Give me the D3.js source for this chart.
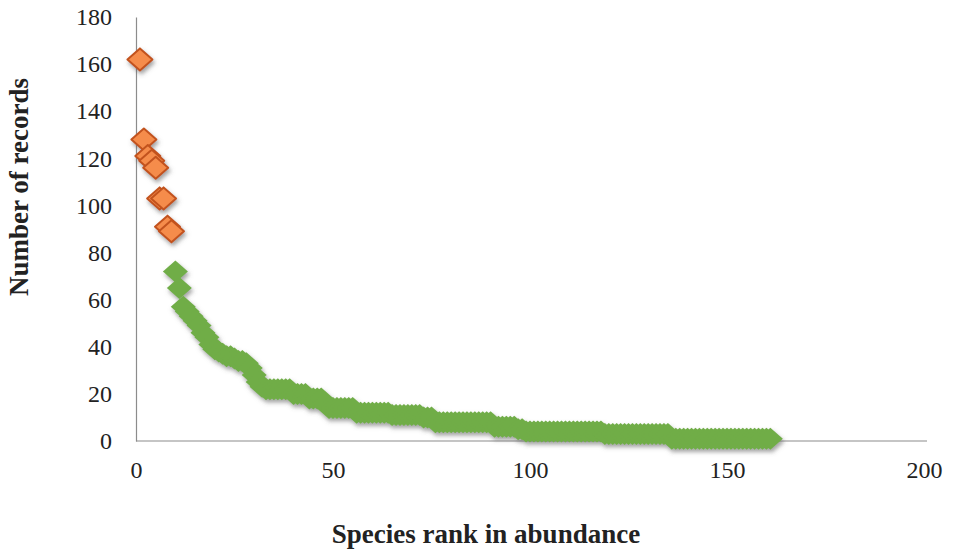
<!DOCTYPE html>
<html lang="en">
  <head>
    <meta charset="utf-8" />
    <title>Species rank abundance</title>
    <script src="https://d3js.org/d3.v7.min.js"></script>
    <style>
      body {
        margin: 0;
        background: #fff;
      }
      text {
        font-family: "Liberation Serif", "DejaVu Serif", serif;
      }
      .tick text {
        font-size: 24px;
        fill: #222;
      }
      .axis-title {
        font-weight: bold;
        font-size: 27px;
        fill: #222;
      }
    </style>
  </head>
  <body>
    <svg id="chart" width="956" height="551"></svg>

    <script>
      // ---- data ----
      // most abundant species (ranks 1-9)
      const topCounts = [162, 128, 121, 119, 116, 103, 103, 91, 89];

      // remaining species (ranks 10-161)
      const restCounts = [
        72, 65, 57, 55, 53, 51, 49, 46, 44, 41, 39, 38, 37, 36, 36, 35, 34, 34, 33, 31, 28, 25, 23,
        22, 22, 22, 22, 22, 22, 22,
        20, 20, 20, 20,
        18, 18, 18, 18,
        16,
        14, 14, 14, 14, 14, 14, 14,
        12, 12, 12, 12, 12, 12, 12, 12, 12,
        11, 11, 11, 11, 11, 11, 11, 11,
        10, 10, 10,
        8, 8, 8, 8, 8, 8, 8, 8, 8, 8, 8, 8, 8, 8, 8,
        6, 6, 6, 6, 6, 6,
        5, 5,
        4, 4, 4, 4, 4, 4, 4, 4, 4, 4, 4, 4, 4, 4, 4, 4, 4, 4, 4, 4,
        3, 3, 3, 3, 3, 3, 3, 3, 3, 3, 3, 3, 3, 3, 3, 3, 3,
        1, 1, 1, 1, 1, 1, 1, 1, 1, 1, 1, 1, 1, 1, 1, 1, 1, 1, 1, 1, 1, 1, 1, 1, 1, 1
      ];

      const xTicks = [0, 50, 100, 150, 200];
      const yTicks = [0, 20, 40, 60, 80, 100, 120, 140, 160, 180];

      // rank = position in the sorted list
      const topPoints = topCounts.map((v, i) => ({ rank: i + 1, n: v }));
      const restPoints = restCounts.map((v, i) => ({ rank: topCounts.length + i + 1, n: v }));

      // ---- layout ----
      const svg = d3.select("#chart");
      const margin = { left: 136, right: 32, top: 17, bottom: 110 };
      const width = 956;
      const height = 551;

      const x = d3.scaleLinear().domain([0, 200]).range([margin.left, width - margin.right]);
      const y = d3.scaleLinear().domain([0, 180]).range([height - margin.bottom, margin.top]);

      // drop shadow like the office chart
      const defs = svg.append("defs");
      const shadow = defs.append("filter")
        .attr("id", "shadow")
        .attr("x", "-20%").attr("y", "-20%")
        .attr("width", "140%").attr("height", "140%");
      shadow.append("feDropShadow")
        .attr("dx", 1.5).attr("dy", 3)
        .attr("stdDeviation", 2)
        .attr("flood-color", "#555")
        .attr("flood-opacity", 0.55);

      // ---- axes ----
      const xAxis = svg.append("g")
        .attr("transform", `translate(0,${y(0)})`)
        .call(d3.axisBottom(x).tickValues(xTicks).tickSize(0).tickPadding(20));

      const yAxis = svg.append("g")
        .attr("transform", `translate(${x(0)},0)`)
        .call(d3.axisLeft(y).tickValues(yTicks).tickSize(0).tickPadding(24));

      [xAxis, yAxis].forEach((g) => {
        g.select(".domain").attr("stroke", "#8c8c8c").attr("stroke-width", 1.2);
        g.selectAll(".tick text").attr("font-family", null).attr("font-size", null);
      });
      xAxis.select(".domain").attr("d", `M${x(0)},0H${x(200) + 3}`);

      // ---- marks ----
      const diamond = "M0,-11L12.5,0L0,11L-12.5,0Z";

      svg.append("g")
        .attr("filter", "url(#shadow)")
        .selectAll("path")
        .data(restPoints)
        .join("path")
        .attr("d", diamond)
        .attr("transform", (d) => `translate(${x(d.rank)},${y(d.n)})`)
        .attr("fill", "#70ad47");

      svg.append("g")
        .attr("filter", "url(#shadow)")
        .selectAll("path")
        .data(topPoints)
        .join("path")
        .attr("d", diamond)
        .attr("transform", (d) => `translate(${x(d.rank)},${y(d.n)})`)
        .attr("fill", "#f58c4b")
        .attr("stroke", "#c2521f")
        .attr("stroke-width", 2)
        .attr("stroke-linejoin", "round");

      // ---- titles ----
      svg.append("text")
        .attr("class", "axis-title")
        .attr("x", 486)
        .attr("y", 543)
        .attr("text-anchor", "middle")
        .text("Species rank in abundance");

      svg.append("text")
        .attr("class", "axis-title")
        .attr("transform", "translate(28,187) rotate(-90)")
        .attr("text-anchor", "middle")
        .text("Number of records");
    </script>
  </body>
</html>
